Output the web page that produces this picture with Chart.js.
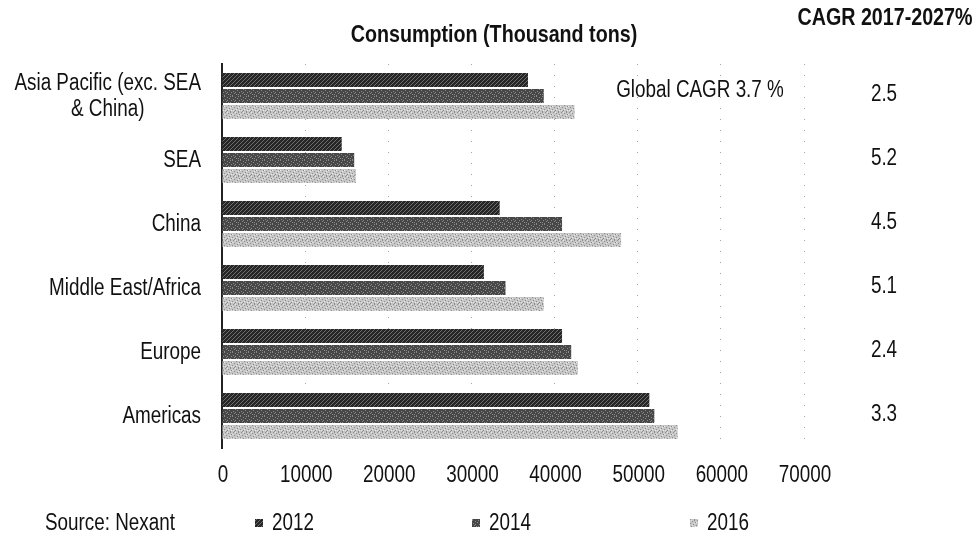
<!DOCTYPE html>
<html>
<head>
<meta charset="utf-8">
<script src="https://cdn.jsdelivr.net/npm/chart.js@4/dist/chart.umd.min.js"></script>
<style>
  html, body { margin: 0; padding: 0; background: #fff; }
  canvas { display: block; }
</style>
</head>
<body>
<canvas id="chart" width="972" height="535"></canvas>
<script>
// Regions, consumption in thousand tons by year, and forecast growth
const regions = [["Asia Pacific (exc. SEA", "& China)"], "SEA", "China", "Middle East/Africa", "Europe", "Americas"];
const years = ["2012", "2014", "2016"];
const values2012 = [36800, 14400, 33400, 31500, 40900, 51400];
const values2014 = [38700, 15900, 40900, 34100, 42000, 52000];
const values2016 = [42400, 16100, 48000, 38700, 42800, 54800];
const cagr = ["2.5", "5.2", "4.5", "5.1", "2.4", "3.3"];
const xTicks = [0, 10000, 20000, 30000, 40000, 50000, 60000, 70000];

const FONT = "'Liberation Sans', Arial, sans-serif";
const NARROW = 0.82; // horizontal squeeze giving a narrow face

// Small tiled textures for the bar fills
function makePattern(base, ink, painter) {
  const c = document.createElement('canvas');
  c.width = 8; c.height = 8;
  const g = c.getContext('2d');
  g.fillStyle = base;
  g.fillRect(0, 0, 8, 8);
  g.fillStyle = ink;
  painter(g);
  return g.createPattern(c, 'repeat');
}
const hatch2012 = makePattern('#262626', '#6e6e6e', g => {
  for (let i = 0; i < 8; i++) {
    g.fillRect(i % 8, 7 - i, 1, 1);
    g.fillRect((i + 4) % 8, 7 - i, 1, 1);
  }
});
const dots2014 = makePattern('#474747', '#8c8c8c', g => {
  const pts = [[0,0],[3,1],[6,0],[1,3],[5,2],[2,5],[7,4],[4,6],[0,7],[6,6],[3,4]];
  pts.forEach(p => g.fillRect(p[0], p[1], 1, 1));
});
const dots2016 = makePattern('#c6c6c6', '#8f8f8f', g => {
  const pts = [[1,0],[4,1],[7,2],[2,3],[5,4],[0,5],[3,6],[6,7],[6,0],[2,7]];
  pts.forEach(p => g.fillRect(p[0], p[1], 1, 1));
  g.fillStyle = '#e6e6e6';
  [[3,0],[0,2],[6,3],[4,5],[1,6],[7,6]].forEach(p => g.fillRect(p[0], p[1], 1, 1));
});
const fills = [hatch2012, dots2014, dots2016];

// Draw text squeezed horizontally around its anchor point
function narrowText(ctx, text, x, y, align, font) {
  ctx.save();
  ctx.font = font;
  ctx.textAlign = align;
  ctx.textBaseline = 'middle';
  ctx.translate(x, y);
  ctx.scale(NARROW, 1);
  ctx.fillText(text, 0, 0);
  ctx.restore();
}

// Labels, side column and legend drawn around the plot
const decorations = {
  id: 'decorations',
  afterDraw(chart) {
    const ctx = chart.ctx;
    const xs = chart.scales.x;
    const ys = chart.scales.y;
    const regular = '23px ' + FONT;
    const bold = 'bold 24px ' + FONT;
    ctx.save();
    ctx.fillStyle = '#111';

    // Category labels: right-aligned blocks, lines centred within a block
    ctx.font = regular;
    const labelRight = 201;
    regions.forEach((lab, i) => {
      const lines = Array.isArray(lab) ? lab : [lab];
      const cy = ys.getPixelForValue(i);
      const blockW = Math.max(...lines.map(l => ctx.measureText(l).width)) * NARROW;
      const lh = 26;
      lines.forEach((l, k) => {
        narrowText(ctx, l, labelRight - blockW / 2, cy + (k - (lines.length - 1) / 2) * lh + 1, 'center', regular);
      });
    });

    // Value axis tick labels
    xTicks.forEach(v => {
      narrowText(ctx, String(v), xs.getPixelForValue(v) + 1, chart.chartArea.bottom + 28, 'center', regular);
    });

    // Headings
    narrowText(ctx, 'Consumption (Thousand tons)', 494, 35, 'center', bold);
    narrowText(ctx, 'CAGR 2017-2027%', 885, 18, 'center', bold);

    // Growth column
    cagr.forEach((v, i) => {
      narrowText(ctx, v, 884, ys.getPixelForValue(i) - 1, 'center', regular);
    });
    narrowText(ctx, 'Global CAGR 3.7 %', 700, 91, 'center', regular);

    // Source and legend row
    narrowText(ctx, 'Source: Nexant', 45, 524, 'left', regular);
    const legendX = [255, 472, 690];
    years.forEach((yr, k) => {
      ctx.fillStyle = fills[k];
      ctx.fillRect(legendX[k], 519, 8, 8);
      ctx.fillStyle = '#111';
      narrowText(ctx, yr, legendX[k] + 17, 524, 'left', regular);
    });
    ctx.restore();
  }
};

new Chart(document.getElementById('chart'), {
  type: 'bar',
  data: {
    labels: regions,
    datasets: [
      { label: years[0], data: values2012, backgroundColor: hatch2012 },
      { label: years[1], data: values2014, backgroundColor: dots2014 },
      { label: years[2], data: values2016, backgroundColor: dots2016 }
    ]
  },
  options: {
    indexAxis: 'y',
    responsive: false,
    animation: false,
    devicePixelRatio: 1,
    categoryPercentage: 0.75,
    barPercentage: 0.88,
    layout: { padding: { top: 64, right: 168, bottom: 47, left: 0 } },
    plugins: {
      legend: { display: false },
      tooltip: { enabled: false }
    },
    scales: {
      x: {
        min: 0,
        max: 70000,
        afterBuildTicks(scale) { scale.ticks = xTicks.map(v => ({ value: v })); },
        afterFit(scale) { scale.height = 40; },
        border: { display: false, dash: [1, 10] },
        grid: {
          drawTicks: false,
          color: ctx => ctx.tick && ctx.tick.value === 0 ? 'rgba(0,0,0,0)' : '#a6a6a6',
          lineWidth: 1
        },
        ticks: { display: false }
      },
      y: {
        afterFit(scale) { scale.width = 222; },
        grid: { display: false },
        border: { display: true, color: '#222', width: 2 },
        ticks: { display: false }
      }
    }
  },
  plugins: [decorations]
});
</script>
</body>
</html>
